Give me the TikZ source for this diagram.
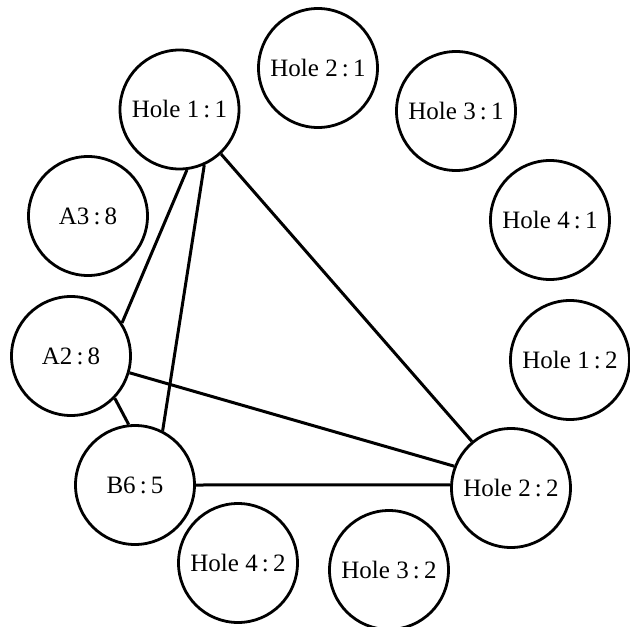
\documentclass[tikz,border=0pt]{standalone}
\usepackage{fontspec}
\setmainfont{Liberation Serif}
\begin{document}
\begin{tikzpicture}[x=1pt,y=-1pt,
  hole/.style={circle,draw,line width=2.8pt,minimum size=119pt,inner sep=0pt,
    font=\fontsize{25}{30}\selectfont},
  link/.style={line width=3pt}]
\useasboundingbox (0,0) rectangle (630,627);
\node[hole] (h11) at (179.5,109.5) {Hole 1\,:\,1};
\node[hole] (h21) at (318,68) {Hole 2\,:\,1};
\node[hole] (h31) at (456,111) {Hole 3\,:\,1};
\node[hole] (h41) at (550,220) {Hole 4\,:\,1};
\node[hole] (h12) at (570,360) {Hole 1\,:\,2};
\node[hole] (h22) at (511,488) {Hole 2\,:\,2};
\node[hole] (h32) at (389,570) {Hole 3\,:\,2};
\node[hole] (h42) at (238,563) {Hole 4\,:\,2};
\node[hole] (b65) at (135,485) {B6\,:\,5};
\node[hole] (a28) at (71,356) {A2\,:\,8};
\node[hole] (a38) at (88,216) {A3\,:\,8};
\draw[link] (h11.-83) -- (a28.33);
\draw[link] (h11.-66) -- (b65.63);
\draw[link] (h11.-47) -- (h22.130);
\draw[link] (a28.-16) -- (h22.159);
\draw[link] (a28.-44) -- (b65.96);
\draw[link] (b65.0) -- (h22.177);
\end{tikzpicture}
\end{document}
